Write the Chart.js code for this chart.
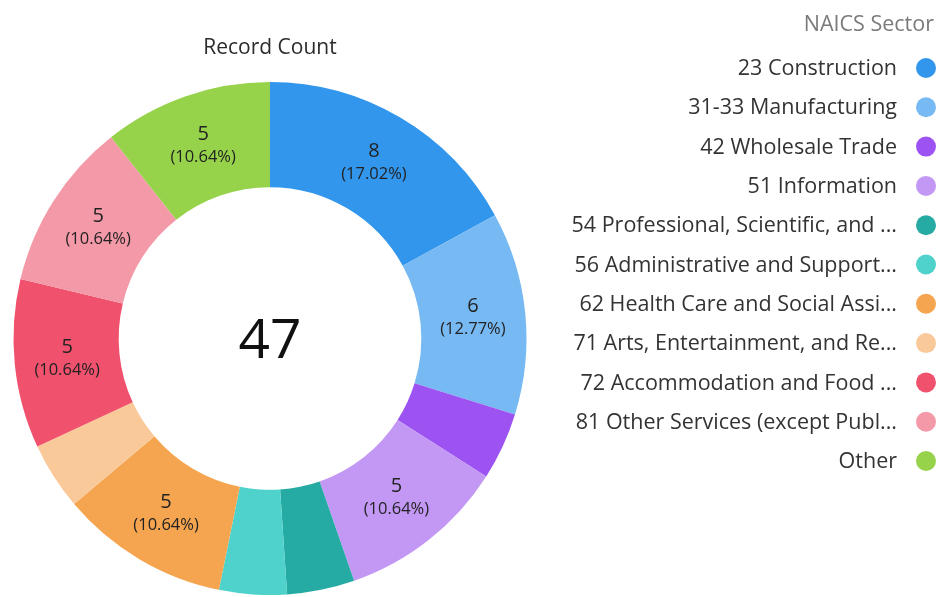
<!DOCTYPE html>
<html>
<head>
<meta charset="utf-8">
<script src="https://cdn.jsdelivr.net/npm/chart.js@4.4.0/dist/chart.umd.min.js"></script>
<style>
  html, body { margin: 0; padding: 0; background: #fff; }
  #wrap { position: relative; width: 938px; height: 597px; }
</style>
</head>
<body>
<div id="wrap"><canvas id="chart" width="938" height="597"></canvas></div>
<script>
// data
var sectors = [
    '23 Construction',
    '31-33 Manufacturing',
    '42 Wholesale Trade',
    '51 Information',
    '54 Professional, Scientific, and ...',
    '56 Administrative and Support...',
    '62 Health Care and Social Assi...',
    '71 Arts, Entertainment, and Re...',
    '72 Accommodation and Food ...',
    '81 Other Services (except Publ...',
    'Other'
]
var recordCounts = [8, 6, 2, 5, 2, 2, 5, 2, 5, 5, 5]
var sectorColors = [
    '#3296ed', '#77b9f2', '#9d53f2', '#c398f5', '#26aba4', '#4fd2cb',
    '#f5a54f', '#f9c99a', '#f0516d', '#f499a8', '#96d34b'
]
var chartTitle = 'Record Count'
var legendTitle = 'NAICS Sector'

var FONT = '"Open Sans", "Noto Sans", sans-serif'
var total = recordCounts.reduce((a, b) => a + b, 0)

// value + percent labels inside the bigger slices
var sliceLabels = {
    id: 'sliceLabels',
    afterDatasetsDraw(chart) {
        const ctx = chart.ctx
        const meta = chart.getDatasetMeta(0)
        ctx.save()
        ctx.textAlign = 'center'
        ctx.textBaseline = 'middle'
        ctx.fillStyle = '#222'
        meta.data.forEach((arc, i) => {
            var v = recordCounts[i]
            if (v < 5) return
            var p = arc.tooltipPosition()
            ctx.font = '20px ' + FONT
            ctx.fillText(String(v), p.x, p.y - 12)
            ctx.font = '16.5px ' + FONT
            ctx.fillText('(' + (v / total * 100).toFixed(2) + '%)', p.x, p.y + 11)
        })
        ctx.restore()
    }
}

// total in the hole, title above the ring
var centerText = {
    id: 'centerText',
    afterDraw(chart) {
        const ctx = chart.ctx
        const arc = chart.getDatasetMeta(0).data[0]
        ctx.save()
        ctx.textAlign = 'center'
        ctx.textBaseline = 'middle'
        ctx.fillStyle = '#111'
        ctx.font = '55px ' + FONT
        ctx.fillText(String(total), arc.x, arc.y + 4)
        ctx.fillStyle = '#2b2b2b'
        ctx.font = '21px ' + FONT
        ctx.fillText(chartTitle, arc.x, 48)
        ctx.restore()
    }
}

// legend on the right, text right-aligned next to dots
var sideLegend = {
    id: 'sideLegend',
    afterDraw(chart) {
        const ctx = chart.ctx
        ctx.save()
        ctx.textBaseline = 'middle'
        ctx.textAlign = 'right'
        ctx.fillStyle = '#7b7b7b'
        ctx.font = '21.5px ' + FONT
        ctx.fillText(legendTitle, 934, 25)
        ctx.font = '21.5px ' + FONT
        sectors.forEach((s, i) => {
            var y = 69 + i * 39.3
            ctx.fillStyle = '#333'
            ctx.fillText(s, 897, y)
            ctx.beginPath()
            ctx.arc(926, y - 1, 10, 0, Math.PI * 2)
            ctx.fillStyle = sectorColors[i]
            ctx.fill()
        })
        ctx.restore()
    }
}

new Chart(document.getElementById('chart').getContext('2d'), {
    type: 'doughnut',
    data: {
        labels: sectors,
        datasets: [{
            data: recordCounts,
            backgroundColor: sectorColors,
            borderWidth: 0
        }]
    },
    options: {
        responsive: false,
        animation: false,
        cutout: '59%',
        layout: {
            padding: { left: 12, right: 410, top: 82, bottom: 2 }
        },
        plugins: {
            legend: { display: false },
            tooltip: { enabled: false },
            title: { display: false }
        }
    },
    plugins: [sliceLabels, centerText, sideLegend]
})
</script>
</body>
</html>
